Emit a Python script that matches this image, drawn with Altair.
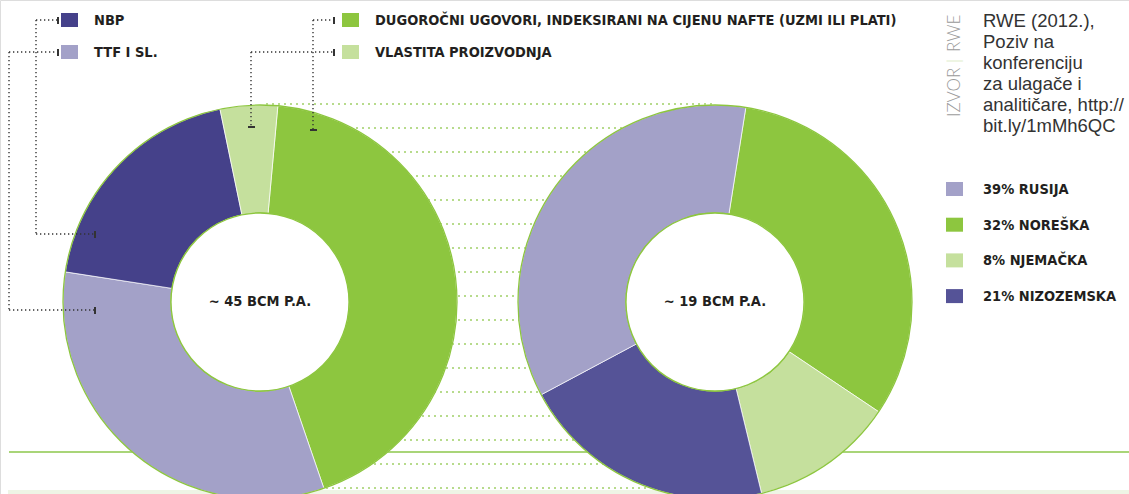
import math
import altair as alt
import pandas as pd

# ---------------- data ----------------
left_labels = ["DUGOROČNI UGOVORI, INDEKSIRANI NA CIJENU NAFTE (UZMI ILI PLATI)",
               "TTF I SL.", "NBP", "VLASTITA PROIZVODNJA"]
left_values = [43.3, 32.7, 19.3, 4.7]
left_colors = ["#8dc63f", "#a3a1c8", "#45418a", "#c5e09d"]

right_labels = ["32% NOREŠKA", "8% NJEMAČKA", "21% NIZOZEMSKA", "39% RUSIJA"]
right_values = [31.9, 11.8, 21.0, 35.3]
right_colors = ["#8dc63f", "#c5e09d", "#555397", "#a3a1c8"]

center_texts = ["~ 45 BCM P.A.", "~ 19 BCM P.A."]

legend_top_labels = ["NBP", "TTF I SL.", "DUGOROČNI UGOVORI, INDEKSIRANI NA CIJENU NAFTE (UZMI ILI PLATI)",
                     "VLASTITA PROIZVODNJA"]
legend_top_colors = ["#45418a", "#a3a1c8", "#8dc63f", "#c5e09d"]

legend_right_labels = ["39% RUSIJA", "32% NOREŠKA", "8% NJEMAČKA", "21% NIZOZEMSKA"]
legend_right_colors = ["#a3a1c8", "#8dc63f", "#c5e09d", "#555397"]

source_text = "RWE (2012.),\nPoziv na\nkonferenciju\nza ulagače i\nanalitičare, http://\nbit.ly/1mMh6QC"

# ---------------- layout ----------------
W, H = 1129, 494
CY = 302
CX = [260, 715]
R_OUT, R_IN = 197, 89
BOLD = "DejaVu Sans Condensed, Liberation Sans Narrow, Arial Narrow, sans-serif"
REG = "Liberation Sans, Arial, Helvetica, sans-serif"
GREEN = "#8dc63f"
FS = 14.5

# background band and line
band = alt.Chart(pd.DataFrame({"a": [0]})).mark_rect(color="#eef4e5").encode(
    x=alt.value(8), x2=alt.value(W), y=alt.value(490), y2=alt.value(H))
hline = alt.Chart(pd.DataFrame({"a": [0]})).mark_rule(color="#a9d578", strokeWidth=2).encode(
    x=alt.value(9), x2=alt.value(W), y=alt.value(452))

dot_rows = pd.DataFrame({"y": list(range(104, 490, 24))})
dots = alt.Chart(dot_rows).mark_rule(color="#b7db8c", strokeWidth=2, strokeDash=[2, 4]).encode(
    x=alt.value(CX[0] + 6), x2=alt.value(CX[1]), y=alt.Y("y:Q", scale=None))


def donut(labels, values, colors, cx, start_deg):
    df = pd.DataFrame({"label": labels, "value": values, "color": colors,
                       "order": list(range(len(labels)))})
    start = math.radians(start_deg)
    return alt.Chart(df).mark_arc(radius=R_OUT, radius2=R_IN, stroke="white", strokeWidth=0.7).encode(
        theta=alt.Theta("value:Q", stack=True, scale=alt.Scale(range=[start, start + 2 * math.pi])),
        color=alt.Color("color:N", scale=None, legend=None),
        order=alt.Order("order:Q"),
        x=alt.value(cx), y=alt.value(CY),
        tooltip=["label:N", "value:Q"],
    )


left = donut(left_labels, left_values, left_colors, CX[0], 5.2)
right = donut(right_labels, right_values, right_colors, CX[1], 9.0)

centers = pd.DataFrame({"cx": CX, "t": center_texts})
xc = alt.X("cx:Q", scale=None, stack=None)
outline = alt.Chart(centers).mark_arc(radius=R_OUT, radius2=R_IN, fillOpacity=0,
                                      stroke=GREEN, strokeWidth=1.3).encode(
    x=xc, y=alt.value(CY),
    theta=alt.value(0), theta2=alt.value(2 * math.pi))
hole = alt.Chart(centers).mark_arc(radius=R_IN, radius2=0, fill="white",
                                   stroke=GREEN, strokeWidth=1.3).encode(
    x=xc, y=alt.value(CY),
    theta=alt.value(0), theta2=alt.value(2 * math.pi))
ctext = alt.Chart(centers).mark_text(font=BOLD, fontWeight="bold", fontSize=FS, color="#231f20",
                                     align="center", baseline="middle").encode(
    x=xc, y=alt.value(CY), text="t:N")

# leader lines (dotted) and end ticks
segs = pd.DataFrame([
    (36, 20, 58, 20), (36, 20, 36, 234), (36, 234, 95, 234),
    (9, 52, 58, 52), (9, 52, 9, 310), (9, 310, 95, 310),
    (313, 20, 334, 20), (313, 20, 313, 130),
    (251, 52, 334, 52), (251, 52, 251, 127),
], columns=["x1", "y1", "x2", "y2"])
leaders = alt.Chart(segs).mark_rule(color="#333333", strokeWidth=1.4, strokeDash=[1.3, 2.7]).encode(
    x=alt.X("x1:Q", scale=None), y=alt.Y("y1:Q", scale=None),
    x2="x2:Q", y2="y2:Q")
ticks = pd.DataFrame([
    (58, 17, 58, 24), (58, 49, 58, 56), (95, 231, 95, 238), (95, 307, 95, 314),
    (334, 17, 334, 24), (334, 49, 334, 56), (310, 130, 317, 130), (248, 127, 255, 127),
], columns=["x1", "y1", "x2", "y2"])
tick_marks = alt.Chart(ticks).mark_rule(color="#333333", strokeWidth=2).encode(
    x=alt.X("x1:Q", scale=None), y=alt.Y("y1:Q", scale=None), x2="x2:Q", y2="y2:Q")

# legends
lt = pd.DataFrame({"label": legend_top_labels, "color": legend_top_colors,
                   "sx": [61, 61, 342, 342], "sy": [20, 52, 20, 52]})
lt["tx"] = lt["sx"] + 33
lr = pd.DataFrame({"label": legend_right_labels, "color": legend_right_colors})
lr["sx"] = 946
lr["sy"] = [189 + 35.7 * i for i in range(len(lr))]
lr["tx"] = 983
leg = pd.concat([lt, lr], ignore_index=True)
leg["x1"] = leg["sx"]
leg["x2"] = leg["sx"] + 17
leg["y1"] = leg["sy"] - 7
leg["y2"] = leg["sy"] + 7
leg_sq = alt.Chart(leg).mark_rect().encode(
    x=alt.X("x1:Q", scale=None), x2="x2:Q", y=alt.Y("y1:Q", scale=None), y2="y2:Q",
    color=alt.Color("color:N", scale=None, legend=None))
leg_tx = alt.Chart(leg).mark_text(font=BOLD, fontWeight="bold", fontSize=FS, color="#231f20",
                                  align="left", baseline="middle", dy=1).encode(
    x=alt.X("tx:Q", scale=None), y=alt.Y("sy:Q", scale=None), text="label:N")

# source
src = alt.Chart(pd.DataFrame({"t": [source_text]})).mark_text(
    font=REG, fontSize=18.5, color="#333333", align="left", baseline="alphabetic",
    lineBreak="\n", lineHeight=21).encode(x=alt.value(983), y=alt.value(27), text="t:N")

rot = pd.DataFrame({"t": ["IZVOR", "RWE", "|"], "y": [117, 52, 61], "c": ["#9a9a9a", "#9a9a9a", "#c5e09d"],
                    "al": ["left", "left", "center"]})
rot_l = alt.Chart(rot[rot["al"] == "left"]).mark_text(
    font="Lato, Liberation Sans, sans-serif", fontWeight=300, fontSize=17, angle=270,
    align="left", baseline="middle").encode(
    x=alt.value(955), y=alt.Y("y:Q", scale=None), text="t:N", color=alt.Color("c:N", scale=None))
rot_c = alt.Chart(rot[rot["al"] == "center"]).mark_text(
    font="Lato, Liberation Sans, sans-serif", fontWeight=300, fontSize=17, angle=270,
    align="center", baseline="middle").encode(
    x=alt.value(955), y=alt.Y("y:Q", scale=None), text="t:N", color=alt.Color("c:N", scale=None))

chart = alt.layer(
    band, hline, dots, left, right, outline, hole, ctext, leaders, tick_marks, leg_sq, leg_tx, src,
    rot_l, rot_c
).resolve_scale(theta="independent").properties(
    width=W, height=H, padding=0, autosize=alt.AutoSizeParams(type="none")
).configure_view(stroke=None).configure(background="white")

chart.save("out.html", embed_options={"renderer": "svg", "actions": False})
